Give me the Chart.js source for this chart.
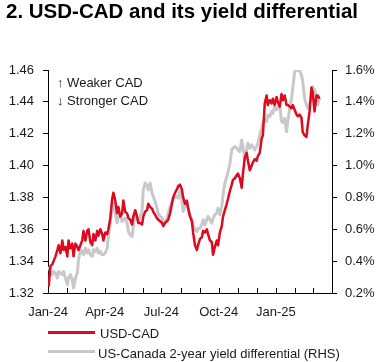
<!DOCTYPE html>
<html>
<head>
<meta charset="utf-8">
<script src="https://cdn.jsdelivr.net/npm/chart.js@4"></script>
<style>
  html, body { margin: 0; padding: 0; background: #fff; }
  #wrap { position: relative; width: 378px; height: 362px; overflow: hidden; font-family: "Liberation Sans", Arial, sans-serif; color: #1a1a1a; }
  #c { position: absolute; left: 0; top: 0; }
  .t { position: absolute; white-space: nowrap; font-size: 13px; line-height: 13px; }
  #title { position: absolute; left: 6px; top: 1px; font-size: 20.5px; line-height: 20px; font-weight: bold; color: #000; white-space: nowrap; }
  .sw { position: absolute; height: 3px; width: 47px; left: 48px; }
</style>
</head>
<body>
<div id="wrap">
  <canvas id="c" width="378" height="362"></canvas>
  <div id="title">2. USD-CAD and its yield differential</div>
  <div class="t" style="left:57px; top:76px;">↑ Weaker CAD</div>
  <div class="t" style="left:57px; top:94px;">↓ Stronger CAD</div>
  <div class="sw" style="top:331px; background:#DC0A1E;"></div>
  <div class="t" style="left:100px; top:327px;">USD-CAD</div>
  <div class="sw" style="top:350px; background:#C8C8C8;"></div>
  <div class="t" style="left:98px; top:347px;">US-Canada 2-year yield differential (RHS)</div>
</div>
<script>
const dates = [
  '2024-01-02','2024-01-05','2024-01-08','2024-01-10','2024-01-13','2024-01-16','2024-01-18','2024-01-21','2024-01-24','2024-01-26','2024-01-29',
  '2024-02-01','2024-02-03','2024-02-06','2024-02-09','2024-02-11','2024-02-14','2024-02-17','2024-02-19','2024-02-22','2024-02-25','2024-02-27',
  '2024-03-01','2024-03-04','2024-03-06','2024-03-09','2024-03-12','2024-03-14','2024-03-17','2024-03-20','2024-03-22','2024-03-25','2024-03-28','2024-03-30',
  '2024-04-02','2024-04-05','2024-04-07','2024-04-10','2024-04-13','2024-04-15','2024-04-18','2024-04-21','2024-04-23','2024-04-26','2024-04-29',
  '2024-05-01','2024-05-04','2024-05-07','2024-05-09','2024-05-12','2024-05-15','2024-05-17','2024-05-20','2024-05-23','2024-05-25','2024-05-28','2024-05-31',
  '2024-06-02','2024-06-05','2024-06-08','2024-06-10','2024-06-13','2024-06-16','2024-06-18','2024-06-21','2024-06-24','2024-06-26','2024-06-29',
  '2024-07-02','2024-07-04','2024-07-07','2024-07-10','2024-07-12','2024-07-15','2024-07-18','2024-07-20','2024-07-23','2024-07-26','2024-07-28','2024-07-31',
  '2024-08-03','2024-08-05','2024-08-08','2024-08-11','2024-08-13','2024-08-16','2024-08-19','2024-08-21','2024-08-24','2024-08-27','2024-08-29',
  '2024-09-01','2024-09-04','2024-09-06','2024-09-09','2024-09-12','2024-09-14','2024-09-17','2024-09-20','2024-09-22','2024-09-25','2024-09-28','2024-09-30',
  '2024-10-03','2024-10-06','2024-10-08','2024-10-11','2024-10-14','2024-10-16','2024-10-19','2024-10-22','2024-10-24','2024-10-27','2024-10-30',
  '2024-11-01','2024-11-04','2024-11-07','2024-11-09','2024-11-12','2024-11-15','2024-11-17','2024-11-20','2024-11-23','2024-11-25','2024-11-28',
  '2024-12-01','2024-12-03','2024-12-06','2024-12-09','2024-12-11','2024-12-14','2024-12-17','2024-12-19','2024-12-22','2024-12-25','2024-12-27','2024-12-30',
  '2025-01-02','2025-01-04','2025-01-07','2025-01-10','2025-01-12','2025-01-15','2025-01-18','2025-01-20','2025-01-23','2025-01-26','2025-01-28','2025-01-31',
  '2025-02-03','2025-02-05','2025-02-08','2025-02-11','2025-02-13','2025-02-16','2025-02-19','2025-02-21','2025-02-24','2025-02-27',
  '2025-03-01','2025-03-04','2025-03-07','2025-03-09','2025-03-12'
];

const usdcad = [
  1.324,1.337,1.338,1.340,1.343,1.347,1.350,1.345,1.353,1.347,1.349,
  1.343,1.353,1.348,1.351,1.343,1.351,1.349,1.347,1.350,1.353,1.359,
  1.353,1.359,1.360,1.352,1.350,1.357,1.353,1.359,1.356,1.360,1.357,1.353,
  1.358,1.357,1.360,1.367,1.379,1.383,1.378,1.370,1.374,1.368,1.370,
  1.378,1.371,1.370,1.367,1.366,1.363,1.368,1.372,1.368,1.364,1.364,1.363,
  1.368,1.371,1.372,1.376,1.374,1.373,1.371,1.369,1.367,1.366,1.365,
  1.364,1.362,1.364,1.365,1.366,1.370,1.376,1.380,1.383,1.385,1.387,1.388,
  1.385,1.380,1.376,1.378,1.373,1.368,1.365,1.358,1.350,1.347,1.350,
  1.354,1.355,1.359,1.358,1.360,1.357,1.353,1.352,1.344,1.349,1.353,1.350,
  1.358,1.362,1.368,1.372,1.376,1.379,1.384,1.388,1.391,1.392,1.394,
  1.395,1.392,1.386,1.395,1.405,1.408,1.403,1.397,1.400,1.402,1.404,
  1.403,1.406,1.408,1.417,1.419,1.439,1.444,1.438,1.441,1.439,1.442,1.438,
  1.443,1.440,1.437,1.445,1.441,1.444,1.438,1.438,1.437,1.436,1.438,1.435,
  1.432,1.431,1.432,1.430,1.421,1.419,1.418,1.425,1.434,1.449,
  1.446,1.434,1.444,1.444,1.442
];

const yieldDiff = [
  0.367,0.335,0.315,0.335,0.325,0.294,0.335,0.325,0.315,0.335,0.294,
  0.252,0.294,0.315,0.283,0.231,0.294,0.325,0.409,0.471,0.461,0.440,
  0.482,0.451,0.471,0.440,0.430,0.471,0.461,0.482,0.451,0.461,0.440,0.440,
  0.451,0.482,0.555,0.639,0.733,0.764,0.701,0.639,0.680,0.691,0.649,
  0.660,0.670,0.639,0.586,0.566,0.555,0.618,0.691,0.670,0.649,0.680,0.712,
  0.848,0.890,0.879,0.848,0.890,0.827,0.806,0.775,0.733,0.701,0.680,
  0.670,0.649,0.650,0.670,0.700,0.740,0.770,0.790,0.800,0.806,0.796,0.837,
  0.785,0.712,0.743,0.764,0.733,0.691,0.660,0.628,0.597,0.586,0.607,
  0.607,0.628,0.660,0.628,0.660,0.680,0.660,0.639,0.670,0.691,0.701,0.733,
  0.691,0.743,0.816,0.890,0.931,0.960,1.010,1.098,1.109,1.119,1.110,
  1.098,1.088,1.161,1.119,1.036,1.098,1.140,1.109,1.130,1.119,1.098,
  1.119,1.140,1.193,1.234,1.266,1.287,1.276,1.318,1.307,1.339,1.328,1.370,
  1.349,1.360,1.385,1.276,1.270,1.297,1.213,1.276,1.360,1.423,1.485,1.590,
  1.600,1.600,1.595,1.569,1.527,1.423,1.381,1.360,1.381,1.443,
  1.495,1.475,1.433,1.381,1.423
];

const monthTicks = ['2024-01-01','2024-02-01','2024-03-01','2024-04-01','2024-05-01','2024-06-01','2024-07-01','2024-08-01','2024-09-01','2024-10-01','2024-11-01','2024-12-01','2025-01-01','2025-02-01','2025-03-01','2025-04-01'];
const monthTickLabels = ['Jan-24','','','Apr-24','','','Jul-24','','','Oct-24','','','Jan-25','','',''];

const leftTicks = { min: 1.32, max: 1.46, step: 0.02 };
const rightTicks = { min: 0.2, max: 1.6, step: 0.2 };

const DAY = 86400000;
const origin = Date.UTC(2024, 0, 1);
function dayNum(s) {
  const p = s.split('-').map(Number);
  return (Date.UTC(p[0], p[1] - 1, p[2]) - origin) / DAY;
}
const xs = dates.map(dayNum);
const tickDays = monthTicks.map(dayNum);
const tickLabelByDay = {};
tickDays.forEach((d, i) => { tickLabelByDay[d] = monthTickLabels[i]; });

const FONT = { family: '"Liberation Sans", Arial, sans-serif', size: 13 };

const innerXTicks = {
  id: 'innerXTicks',
  afterDraw(chart) {
    const x = chart.scales.x;
    const ctx = chart.ctx;
    ctx.save();
    ctx.strokeStyle = '#000';
    ctx.lineWidth = 1;
    ctx.beginPath();
    x.ticks.forEach(t => {
      const px = Math.round(x.getPixelForValue(t.value)) + 0.5;
      ctx.moveTo(px, x.top);
      ctx.lineTo(px, x.top - 5);
    });
    ctx.stroke();
    ctx.restore();
  }
};

new Chart(document.getElementById('c'), {
  type: 'line',
  data: {
    datasets: [
      {
        label: 'USD-CAD',
        data: xs.map((x, i) => ({ x: x, y: usdcad[i] })),
        yAxisID: 'y',
        borderColor: '#DC0A1E',
        borderWidth: 2.5,
        pointRadius: 0,
        tension: 0,
        borderJoinStyle: 'round'
      },
      {
        label: 'US-Canada 2-year yield differential (RHS)',
        data: xs.map((x, i) => ({ x: x, y: yieldDiff[i] })),
        yAxisID: 'y1',
        borderColor: '#C8C8C8',
        borderWidth: 3,
        pointRadius: 0,
        tension: 0,
        borderJoinStyle: 'round'
      }
    ]
  },
  options: {
    responsive: false,
    animation: false,
    devicePixelRatio: 1,
    layout: { padding: { top: 70, left: 0, right: 0, bottom: 0 } },
    plugins: { legend: { display: false }, title: { display: false }, tooltip: { enabled: false } },
    scales: {
      x: {
        type: 'linear',
        min: tickDays[0],
        max: tickDays[tickDays.length - 1],
        afterBuildTicks: (s) => { s.ticks = tickDays.map(v => ({ value: v })); },
        afterFit: (s) => { s.height = 69; },
        grid: { display: false, drawTicks: false },
        border: { display: true, color: '#000', width: 1 },
        ticks: {
          autoSkip: false, maxRotation: 0, minRotation: 0, padding: 12,
          color: '#1a1a1a', font: FONT,
          callback: (v) => tickLabelByDay[v] || ''
        }
      },
      y: {
        position: 'left',
        min: leftTicks.min, max: leftTicks.max,
        afterFit: (s) => { s.width = 48; },
        grid: { display: true, drawOnChartArea: false, drawTicks: true, tickLength: 5, color: '#000' },
        border: { display: true, color: '#000', width: 1 },
        ticks: {
          stepSize: leftTicks.step, padding: 9, color: '#1a1a1a', font: FONT,
          callback: (v) => Number(v).toFixed(2)
        }
      },
      y1: {
        position: 'right',
        min: rightTicks.min, max: rightTicks.max,
        afterFit: (s) => { s.width = 46; },
        grid: { display: true, drawOnChartArea: false, drawTicks: true, tickLength: 5, color: '#000' },
        border: { display: true, color: '#000', width: 1 },
        ticks: {
          stepSize: rightTicks.step, padding: 8, color: '#1a1a1a', font: FONT,
          callback: (v) => Number(v).toFixed(1) + '%'
        }
      }
    }
  },
  plugins: [innerXTicks]
});
</script>
</body>
</html>
